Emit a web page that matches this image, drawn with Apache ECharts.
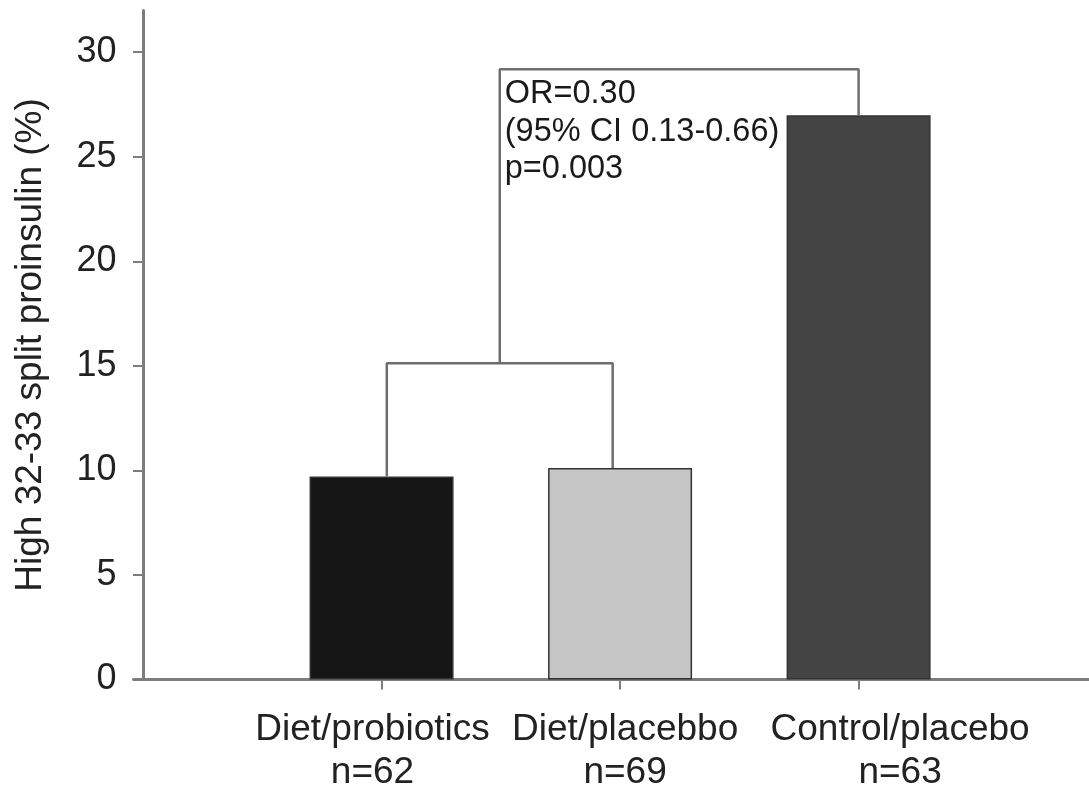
<!DOCTYPE html>
<html>
<head>
<meta charset="utf-8">
<script src="https://cdn.jsdelivr.net/npm/echarts@6/dist/echarts.min.js"></script>
<style>
html,body{margin:0;padding:0;background:#fff;}
#chart{width:1089px;height:791px;}
</style>
</head>
<body>
<div id="chart"></div>
<script>
// ---- data ----
var categories = ['Diet/probiotics', 'Diet/placebbo', 'Control/placebo'];
var sampleSizes = ['n=62', 'n=69', 'n=63'];
var groupPositions = [1, 2, 3];
var proinsulinHigh = [9.71, 10.11, 26.98];
var yTicks = [0, 5, 10, 15, 20, 25, 30];
var bracketLevels = [15.13, 29.18];          // lower and upper comparison bracket heights
var bracketLegs = [1.022, 1.969];             // lower bracket leg positions (group axis units)
var annotationLines = ['OR=0.30', '(95% CI 0.13-0.66)', 'p=0.003'];

// ---- layout/style (not data) ----
var labelPositions = [0.962, 2.021, 3.174];
var barColors = ['#161616', '#c6c6c6', '#444444'];
var FONT = '"Liberation Sans", Arial, Helvetica, sans-serif';
var axisGray = '#7d7d7d';
var bracketGray = '#6e6e6e';

var barData = groupPositions.map(function (x, i) {
  return { value: [x, proinsulinHigh[i]], itemStyle: { color: barColors[i] } };
});

var riser = (bracketLegs[0] + bracketLegs[1]) / 2;
var lowerBracket = [
  [bracketLegs[0], proinsulinHigh[0]],
  [bracketLegs[0], bracketLevels[0]],
  [bracketLegs[1], bracketLevels[0]],
  [bracketLegs[1], proinsulinHigh[1]]
];
var upperBracket = [
  [riser, bracketLevels[0]],
  [riser, bracketLevels[1]],
  [groupPositions[2], bracketLevels[1]],
  [groupPositions[2], proinsulinHigh[2]]
];

var chart = echarts.init(document.getElementById('chart'), null, { renderer: 'canvas' });
chart.setOption({
  animation: false,
  backgroundColor: '#ffffff',
  textStyle: { fontFamily: FONT },
  grid: { left: 133.5, right: 0, top: 10.4, bottom: 111.5, containLabel: false, outerBoundsMode: 'none' },
  xAxis: {
    type: 'value',
    min: -0.04,
    max: 3.966,
    splitLine: { show: false },
    axisLine: { show: true, onZero: false, lineStyle: { color: axisGray, width: 3 } },
    axisTick: { show: true, customValues: groupPositions, length: 10, lineStyle: { color: axisGray, width: 2 } },
    axisLabel: {
      show: true,
      customValues: labelPositions,
      margin: 29,
      fontSize: 37,
      lineHeight: 43,
      color: '#222',
      fontFamily: FONT,
      formatter: function (v) {
        var best = 0, d = 1e9;
        labelPositions.forEach(function (p, i) { if (Math.abs(p - v) < d) { d = Math.abs(p - v); best = i; } });
        return categories[best] + '\n' + sampleSizes[best];
      }
    }
  },
  yAxis: {
    type: 'value',
    min: 0,
    max: 32,
    name: 'High 32-33 split proinsulin (%)',
    nameLocation: 'middle',
    nameGap: 84,
    nameTextStyle: { fontSize: 37, color: '#222', fontFamily: FONT },
    splitLine: { show: false },
    axisLine: { show: true, onZero: true, lineStyle: { color: axisGray, width: 3 } },
    axisTick: { show: true, customValues: yTicks, length: 10, lineStyle: { color: axisGray, width: 2 } },
    axisLabel: { show: true, customValues: yTicks, margin: 17, fontSize: 36, color: '#222', fontFamily: FONT }
  },
  series: [
    {
      type: 'bar',
      data: barData,
      barWidth: 144,
      itemStyle: { borderColor: '#333', borderWidth: 1.5 },
      z: 2
    },
    {
      type: 'line',
      data: lowerBracket,
      symbol: 'none',
      lineStyle: { color: bracketGray, width: 2.5 },
      z: 3
    },
    {
      type: 'line',
      data: upperBracket,
      symbol: 'none',
      lineStyle: { color: bracketGray, width: 2.5 },
      z: 3
    },
    {
      type: 'scatter',
      data: [[riser, bracketLevels[1]]],
      symbolSize: 0,
      itemStyle: { color: 'transparent' },
      label: {
        show: true,
        position: [5, 6],
        align: 'left',
        verticalAlign: 'top',
        fontSize: 32.5,
        lineHeight: 37.5,
        color: '#1a1a1a',
        opacity: 1,
        fontFamily: FONT,
        formatter: annotationLines.join('\n')
      },
      z: 4
    }
  ]
});
</script>
</body>
</html>
